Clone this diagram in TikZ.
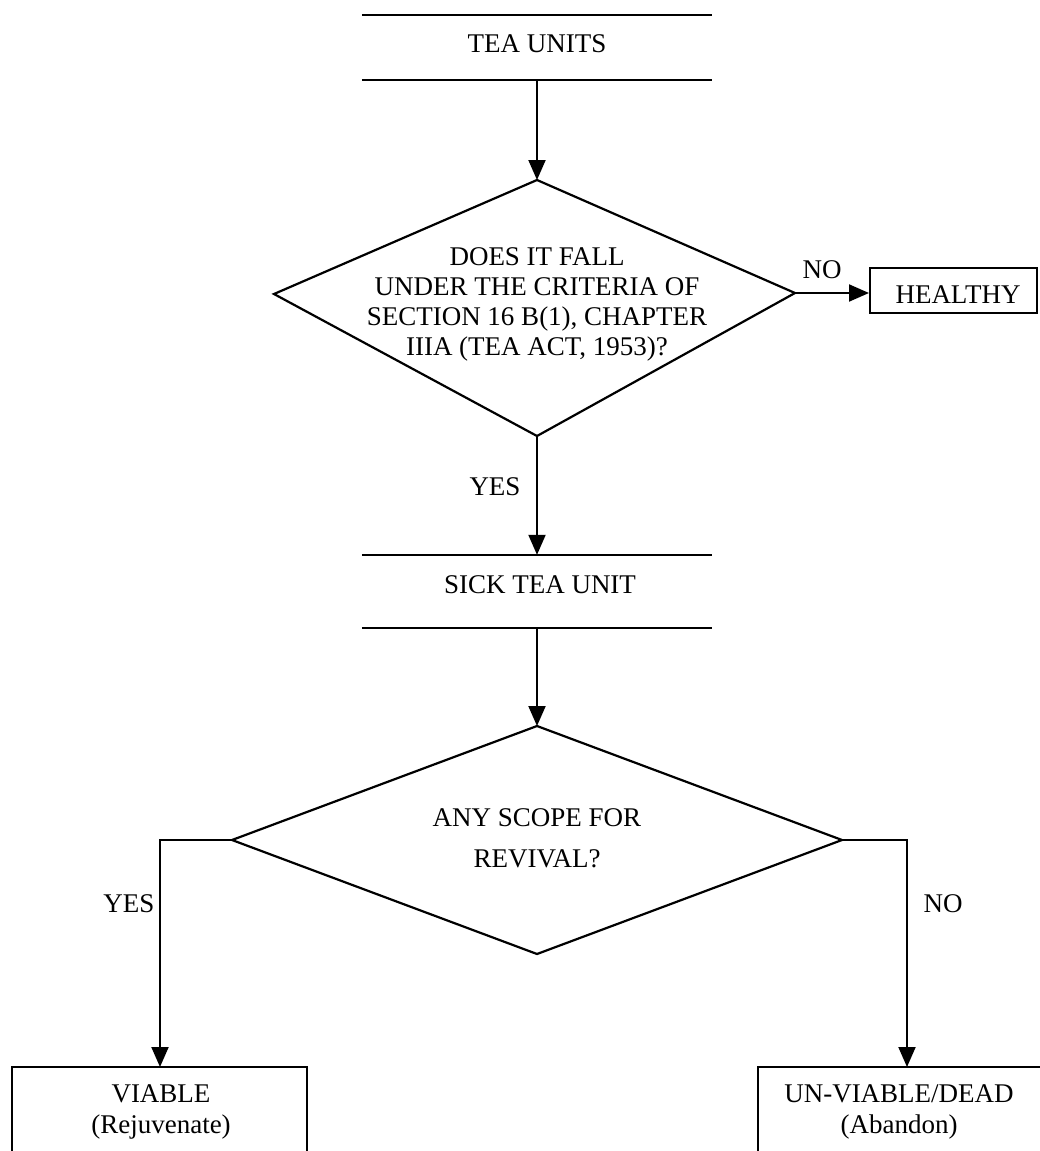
\documentclass[tikz,border=0pt]{standalone}
\usepackage{fontspec}
\setmainfont{Liberation Serif}
\usetikzlibrary{arrows.meta}
\begin{document}
\begin{tikzpicture}[x=1pt,y=-1pt,
  edge/.style={line width=2.2pt, line join=miter},
  arr/.style={line width=2pt,-{Triangle[length=20pt,width=17pt]}},
  txt/.style={font=\fontsize{27}{30}\selectfont, align=center, inner sep=0pt},
  lbl/.style={font=\fontsize{27}{30}\selectfont, inner sep=0pt},
  box/.style={inner sep=0pt}]
\useasboundingbox (0,0) rectangle (1039,1151);

% ---- top box: only the horizontal rules are drawn
\node[box, minimum width=350pt, minimum height=65pt] (units) at (537,47.5) {};
\node[txt] (unitsT) at (537,44) {TEA UNITS};
\draw[edge] (units.north west) -- (units.north east);
\draw[edge] (units.south west) -- (units.south east);

% ---- first decision
\coordinate (d1t) at (537,180);
\coordinate (d1l) at (274,294);
\coordinate (d1r) at (795,293);
\coordinate (d1b) at (537,436);
\draw[edge] (d1t) -- (d1r) -- (d1b) -- (d1l) -- cycle;
\node[txt] (q1) at (537,304) {DOES IT FALL\\UNDER THE CRITERIA OF\\SECTION 16 B(1), CHAPTER\\IIIA (TEA ACT, 1953)?};

% ---- healthy
\node[box, draw, line width=2pt, minimum width=167pt, minimum height=45pt] (healthy) at (953.5,290.5) {};
\node[txt] (healthyT) at (958,295) {HEALTHY};

% ---- sick unit box
\node[box, minimum width=350pt, minimum height=73pt] (sick) at (537,591.5) {};
\node[txt] (sickT) at (540,585) {SICK TEA UNIT};
\draw[edge] (sick.north west) -- (sick.north east);
\draw[edge] (sick.south west) -- (sick.south east);

% ---- second decision
\coordinate (d2t) at (537,726);
\coordinate (d2l) at (232,840);
\coordinate (d2r) at (842,840);
\coordinate (d2b) at (537,954);
\draw[edge] (d2t) -- (d2r) -- (d2b) -- (d2l) -- cycle;
\node[font=\fontsize{27}{41}\selectfont, align=center, inner sep=0pt] (q2) at (537,838) {ANY SCOPE FOR\\REVIVAL?};

% ---- outcome boxes (run off the lower edge)
\coordinate (viable) at (160,1067);
\draw[edge] (12,1160) -- (12,1067) -- (307,1067) -- (307,1160);
\node[font=\fontsize{27}{31}\selectfont, align=center, inner sep=0pt] (viableT) at (161,1112) {VIABLE\\(Rejuvenate)};

\coordinate (dead) at (907,1067);
\draw[edge] (758,1160) -- (758,1067) -- (1056,1067) -- (1056,1160);
\node[font=\fontsize{27}{31}\selectfont, align=center, inner sep=0pt] (deadT) at (899,1112) {UN-VIABLE/DEAD\\(Abandon)};

% ---- connectors
\draw[arr] (units.south) -- (d1t);
\draw[arr] (d1r) -- (d1r -| healthy.west);
\draw[arr] (d1b) -- (sick.north);
\draw[arr] (sick.south) -- (d2t);
\draw[arr] (d2l) -| (viable);
\draw[arr] (d2r) -| (dead);

% ---- branch labels
\node[lbl] (no1) at (822,270) {NO};
\node[lbl] (yes1) at (495,487) {YES};
\node[lbl] (yes2) at (129,904) {YES};
\node[lbl] (no2) at (943,904) {NO};
\end{tikzpicture}
\end{document}
